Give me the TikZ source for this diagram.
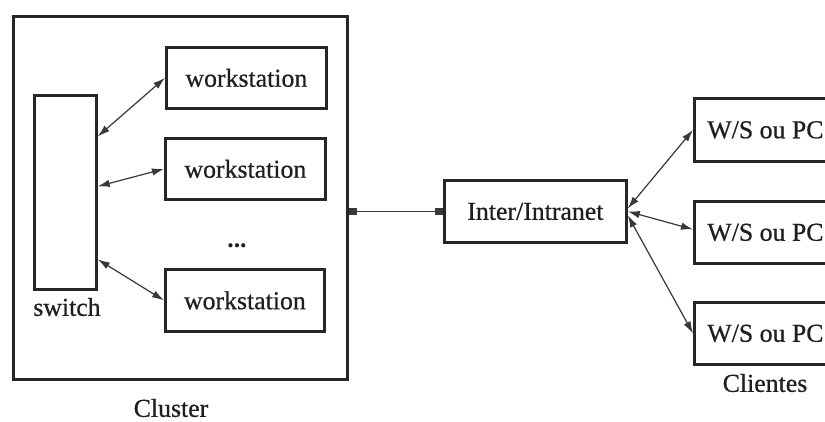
\documentclass[tikz,border=0pt]{standalone}
\usepackage{fontspec}
\setmainfont{Liberation Serif}
\newfontfamily\heavyserif{Liberation Serif}[FakeBold=0.6]
\usetikzlibrary{arrows.meta}
\begin{document}
\begin{tikzpicture}[x=1pt,y=-1pt,
  box/.style={draw=black!85, line width=2.8pt, inner sep=0pt, fill=white},
  txt/.style={font=\heavyserif\fontsize{25.8}{30}\selectfont, text=black!88},
  link/.style={draw=black!78, line width=1.2pt,
    {Latex[length=12pt,width=7.5pt]}-{Latex[length=12pt,width=7.5pt]}},
  plug/.style={draw=black!78, line width=1.2pt,
    {Square[length=8pt,width=7pt]}-{Square[length=8pt,width=7pt]}}
]
\clip (0,0) rectangle (825,421);
\fill[white] (0,0) rectangle (825,421);

% cluster enclosure and its members
\node[box, minimum width=334pt, minimum height=363pt, anchor=north west] (cluster) at (12,15) {};
\node[box, minimum width=62pt, minimum height=194pt, anchor=north west] (sw) at (33,94) {};
\node[txt] (swl) at (67,307) {switch};
\node[box, txt, minimum width=160pt, minimum height=61pt, anchor=north west] (ws1) at (165,46) {workstation};
\node[box, txt, minimum width=160pt, minimum height=61pt, anchor=north west] (ws2) at (164,137) {workstation};
\node[txt, font=\bfseries\fontsize{25.8}{30}\selectfont] (dots) at (237,246) {...};
\node[box, txt, minimum width=159pt, minimum height=62pt, anchor=north west] (ws3) at (164,268) {workstation};
\node[txt] (cl) at (171,408) {Cluster};

% network
\node[box, txt, minimum width=182pt, minimum height=62pt, anchor=north west] (net) at (443,179) {Inter/Intranet};

% client machines
\node[box, txt, minimum width=142pt, minimum height=63pt, anchor=north west] (c1) at (693,97) {W/S ou PC};
\node[box, txt, minimum width=142pt, minimum height=62pt, anchor=north west] (c2) at (693,200) {W/S ou PC};
\node[box, txt, minimum width=142pt, minimum height=62pt, anchor=north west] (c3) at (693,301) {W/S ou PC};
\node[txt] (cll) at (765,383) {Clientes};

% connections
\draw[link] ([yshift=56pt]sw.east) -- (ws1.west);
\draw[link] ([yshift=6pt]sw.east) -- (ws2.west);
\draw[link] ([yshift=-67pt]sw.east) -- (ws3.west);
\draw[plug] (cluster.east |- net.west) -- (net.west);
\draw[link] ([yshift=3pt]net.east) -- (c1.west);
\draw[link] (net.east) -- ([yshift=3pt]c2.west);
\draw[link] ([yshift=-4pt]net.east) -- (c3.west);
\end{tikzpicture}
\end{document}
